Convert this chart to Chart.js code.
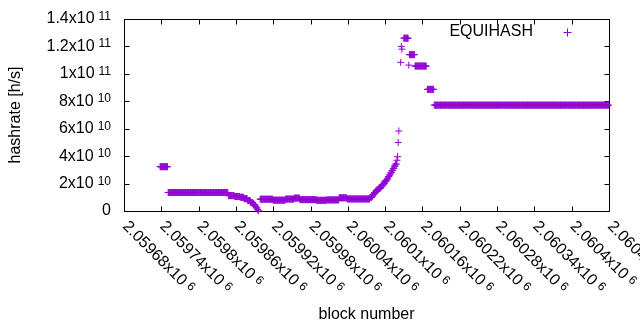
<!DOCTYPE html>
<html>
<head>
<meta charset="utf-8">
<script src="https://cdn.jsdelivr.net/npm/chart.js@4/dist/chart.umd.min.js"></script>
<style>
	html, body { margin: 0; padding: 0; background: #fff; }
	#hashrate { display: block; }
</style>
</head>
<body>
<canvas id="hashrate" width="640" height="330"></canvas>
<script>
// runs of blocks with the same hashrate
var inicioBloco = [
	2059738, 2059751, 2059848, 2059858, 2059867, 2059873, 2059879, 2059884, 2059888, 2059891,
	2059893, 2059895, 2059896, 2059899, 2059920, 2059940, 2059954, 2059963, 2059990, 2060006,
	2060026, 2060039, 2060076, 2060079, 2060081, 2060083, 2060085, 2060087, 2060090, 2060093,
	2060095, 2060098, 2060100, 2060103, 2060105, 2060107, 2060109, 2060111, 2060113, 2060115,
	2060117, 2060119, 2060120, 2060121, 2060122, 2060125, 2060126, 2060127, 2060130, 2060138,
	2060139, 2060148, 2060168, 2060179
];
var fimBloco = [
	2059750, 2059847, 2059857, 2059866, 2059872, 2059878, 2059883, 2059887, 2059890, 2059892,
	2059894, 2059895, 2059896, 2059919, 2059939, 2059953, 2059962, 2059989, 2060005, 2060025,
	2060038, 2060075, 2060078, 2060080, 2060082, 2060084, 2060086, 2060089, 2060092, 2060094,
	2060097, 2060099, 2060102, 2060104, 2060106, 2060108, 2060110, 2060112, 2060114, 2060116,
	2060118, 2060119, 2060120, 2060121, 2060122, 2060125, 2060126, 2060127, 2060137, 2060138,
	2060147, 2060166, 2060178, 2060459
];
var hashrate = [
	3.23e10, 1.35e10, 1.12e10, 1.06e10, 1.0e10, 9.0e9, 7.6e9, 6.2e9, 4.8e9, 3.5e9,
	2.2e9, 1.0e9, 2e8, 8.6e9, 7.9e9, 8.7e9, 9.4e9, 8.3e9, 7.8e9, 8.1e9,
	9.6e9, 8.8e9, 1.0e10, 1.1e10, 1.22e10, 1.33e10, 1.46e10, 1.55e10, 1.65e10, 1.77e10,
	1.9e10, 2.03e10, 2.19e10, 2.33e10, 2.5e10, 2.63e10, 2.79e10, 2.95e10, 3.11e10, 3.28e10,
	3.42e10, 3.7e10, 3.96e10, 5.0e10, 5.83e10, 1.084e11, 1.2e11, 1.18e11, 1.26e11, 1.064e11,
	1.14e11, 1.057e11, 8.87e10, 7.72e10
];

var xTicks = [2059680, 2059740, 2059800, 2059860, 2059920, 2059980, 2060040, 2060100, 2060160, 2060220, 2060280, 2060340, 2060400, 2060460];
var xTickTexto = ['2.05968x10', '2.05974x10', '2.0598x10', '2.05986x10', '2.05992x10', '2.05998x10', '2.06004x10',
	'2.0601x10', '2.06016x10', '2.06022x10', '2.06028x10', '2.06034x10', '2.0604x10', '2.06046x10'];
var xTickExpoente = ['6', '6', '6', '6', '6', '6', '6', '6', '6', '6', '6', '6', '6', '6'];

var yTicks = [0, 2e10, 4e10, 6e10, 8e10, 1e11, 1.2e11, 1.4e11];
var yTickTexto = ['0', '2x10', '4x10', '6x10', '8x10', '1x10', '1.2x10', '1.4x10'];
var yTickExpoente = ['', '10', '10', '10', '10', '11', '11', '11'];

var nomeSerie = 'EQUIHASH';
var corSerie = '#9400d3';
var fonte = '"Liberation Sans", Arial, sans-serif';

function montarPontos() {
	let pontos = [];
	for (let i = 0; i < inicioBloco.length; i++) {
		for (let b = inicioBloco[i]; b <= fimBloco[i]; b++) {
			pontos.push({ x: b, y: hashrate[i] });
		}
	}
	return pontos;
}

// gnuplot style frame: border, inward tics on all sides, rotated labels
var molduraGnuplot = {
	id: 'molduraGnuplot',
	beforeDatasetsDraw: function (chart) {
		let ctx = chart.ctx;
		let a = chart.chartArea;
		let sx = chart.scales.x;
		let sy = chart.scales.y;
		ctx.save();
		ctx.strokeStyle = '#000';
		ctx.lineWidth = 1;
		ctx.strokeRect(a.left + 0.5, a.top + 0.5, a.right - a.left, a.bottom - a.top);
		ctx.beginPath();
		for (let i = 0; i < xTicks.length; i++) {
			let px = Math.round(sx.getPixelForValue(xTicks[i])) + 0.5;
			ctx.moveTo(px, a.bottom + 0.5);
			ctx.lineTo(px, a.bottom - 4.5);
			ctx.moveTo(px, a.top + 0.5);
			ctx.lineTo(px, a.top + 5.5);
		}
		for (let i = 0; i < yTicks.length; i++) {
			let py = Math.round(sy.getPixelForValue(yTicks[i])) + 0.5;
			ctx.moveTo(a.left + 0.5, py);
			ctx.lineTo(a.left + 5.5, py);
			ctx.moveTo(a.right + 0.5, py);
			ctx.lineTo(a.right - 4.5, py);
		}
		ctx.stroke();
		ctx.restore();
	},
	afterDraw: function (chart) {
		let ctx = chart.ctx;
		let a = chart.chartArea;
		let sx = chart.scales.x;
		let sy = chart.scales.y;
		let fonteBase = '16px ' + fonte;
		let fonteSup = '12px ' + fonte;
		ctx.save();
		ctx.fillStyle = '#000';

		// y tick labels
		for (let i = 0; i < yTicks.length; i++) {
			let py = sy.getPixelForValue(yTicks[i]);
			ctx.font = fonteBase;
			let wb = ctx.measureText(yTickTexto[i]).width;
			ctx.font = fonteSup;
			let we = yTickExpoente[i] ? ctx.measureText(yTickExpoente[i]).width : 0;
			let gap = yTickExpoente[i] ? 4 : 0;
			let x0 = 111 - (wb + gap + we);
			ctx.font = fonteBase;
			ctx.textAlign = 'left';
			ctx.textBaseline = 'middle';
			ctx.fillText(yTickTexto[i], x0, py);
			if (yTickExpoente[i]) {
				ctx.font = fonteSup;
				ctx.textBaseline = 'alphabetic';
				ctx.fillText(yTickExpoente[i], x0 + wb + gap, py + 1);
			}
		}

		// x tick labels, rotated -45 like gnuplot
		for (let i = 0; i < xTicks.length; i++) {
			let px = sx.getPixelForValue(xTicks[i]);
			ctx.save();
			ctx.translate(px + 1, a.bottom + 13);
			ctx.rotate(Math.PI / 4);
			ctx.font = fonteBase;
			ctx.textAlign = 'left';
			ctx.textBaseline = 'middle';
			let wb = ctx.measureText(xTickTexto[i]).width;
			ctx.fillText(xTickTexto[i], 0, 0);
			ctx.font = fonteSup;
			ctx.textBaseline = 'alphabetic';
			ctx.fillText(xTickExpoente[i], wb + 4, 1);
			ctx.restore();
		}

		// axis titles
		ctx.font = fonteBase;
		ctx.textAlign = 'center';
		ctx.textBaseline = 'middle';
		ctx.fillText('block number', (a.left + a.right) / 2, 315);
		ctx.save();
		ctx.translate(16, (a.top + a.bottom) / 2);
		ctx.rotate(-Math.PI / 2);
		ctx.fillText('hashrate [h/s]', 0, 0);
		ctx.restore();

		// key
		ctx.textAlign = 'right';
		ctx.fillText(nomeSerie, 533, 32);
		ctx.strokeStyle = corSerie;
		ctx.lineWidth = 1;
		ctx.beginPath();
		ctx.moveTo(563.5, 32.5);
		ctx.lineTo(571.5, 32.5);
		ctx.moveTo(567.5, 28.5);
		ctx.lineTo(567.5, 36.5);
		ctx.stroke();
		ctx.restore();
	}
};

function carregarGrafico() {
	let canvas = document.getElementById('hashrate');
	let grafico = new Chart(canvas, {
		type: 'scatter',
		data: {
			datasets: [{
				label: nomeSerie,
				data: montarPontos(),
				pointStyle: 'cross',
				pointRadius: 3.5,
				pointBorderWidth: 1,
				borderColor: corSerie,
				backgroundColor: corSerie,
				showLine: false,
				clip: false
			}]
		},
		options: {
			responsive: false,
			animation: false,
			events: [],
			layout: {
				padding: { left: 124, top: 19, right: 31, bottom: 119 }
			},
			plugins: {
				legend: { display: false },
				tooltip: { enabled: false }
			},
			scales: {
				x: {
					type: 'linear',
					display: false,
					min: xTicks[0],
					max: xTicks[xTicks.length - 1]
				},
				y: {
					type: 'linear',
					display: false,
					min: yTicks[0],
					max: yTicks[yTicks.length - 1]
				}
			}
		},
		plugins: [molduraGnuplot]
	});
}

carregarGrafico();
</script>
</body>
</html>
